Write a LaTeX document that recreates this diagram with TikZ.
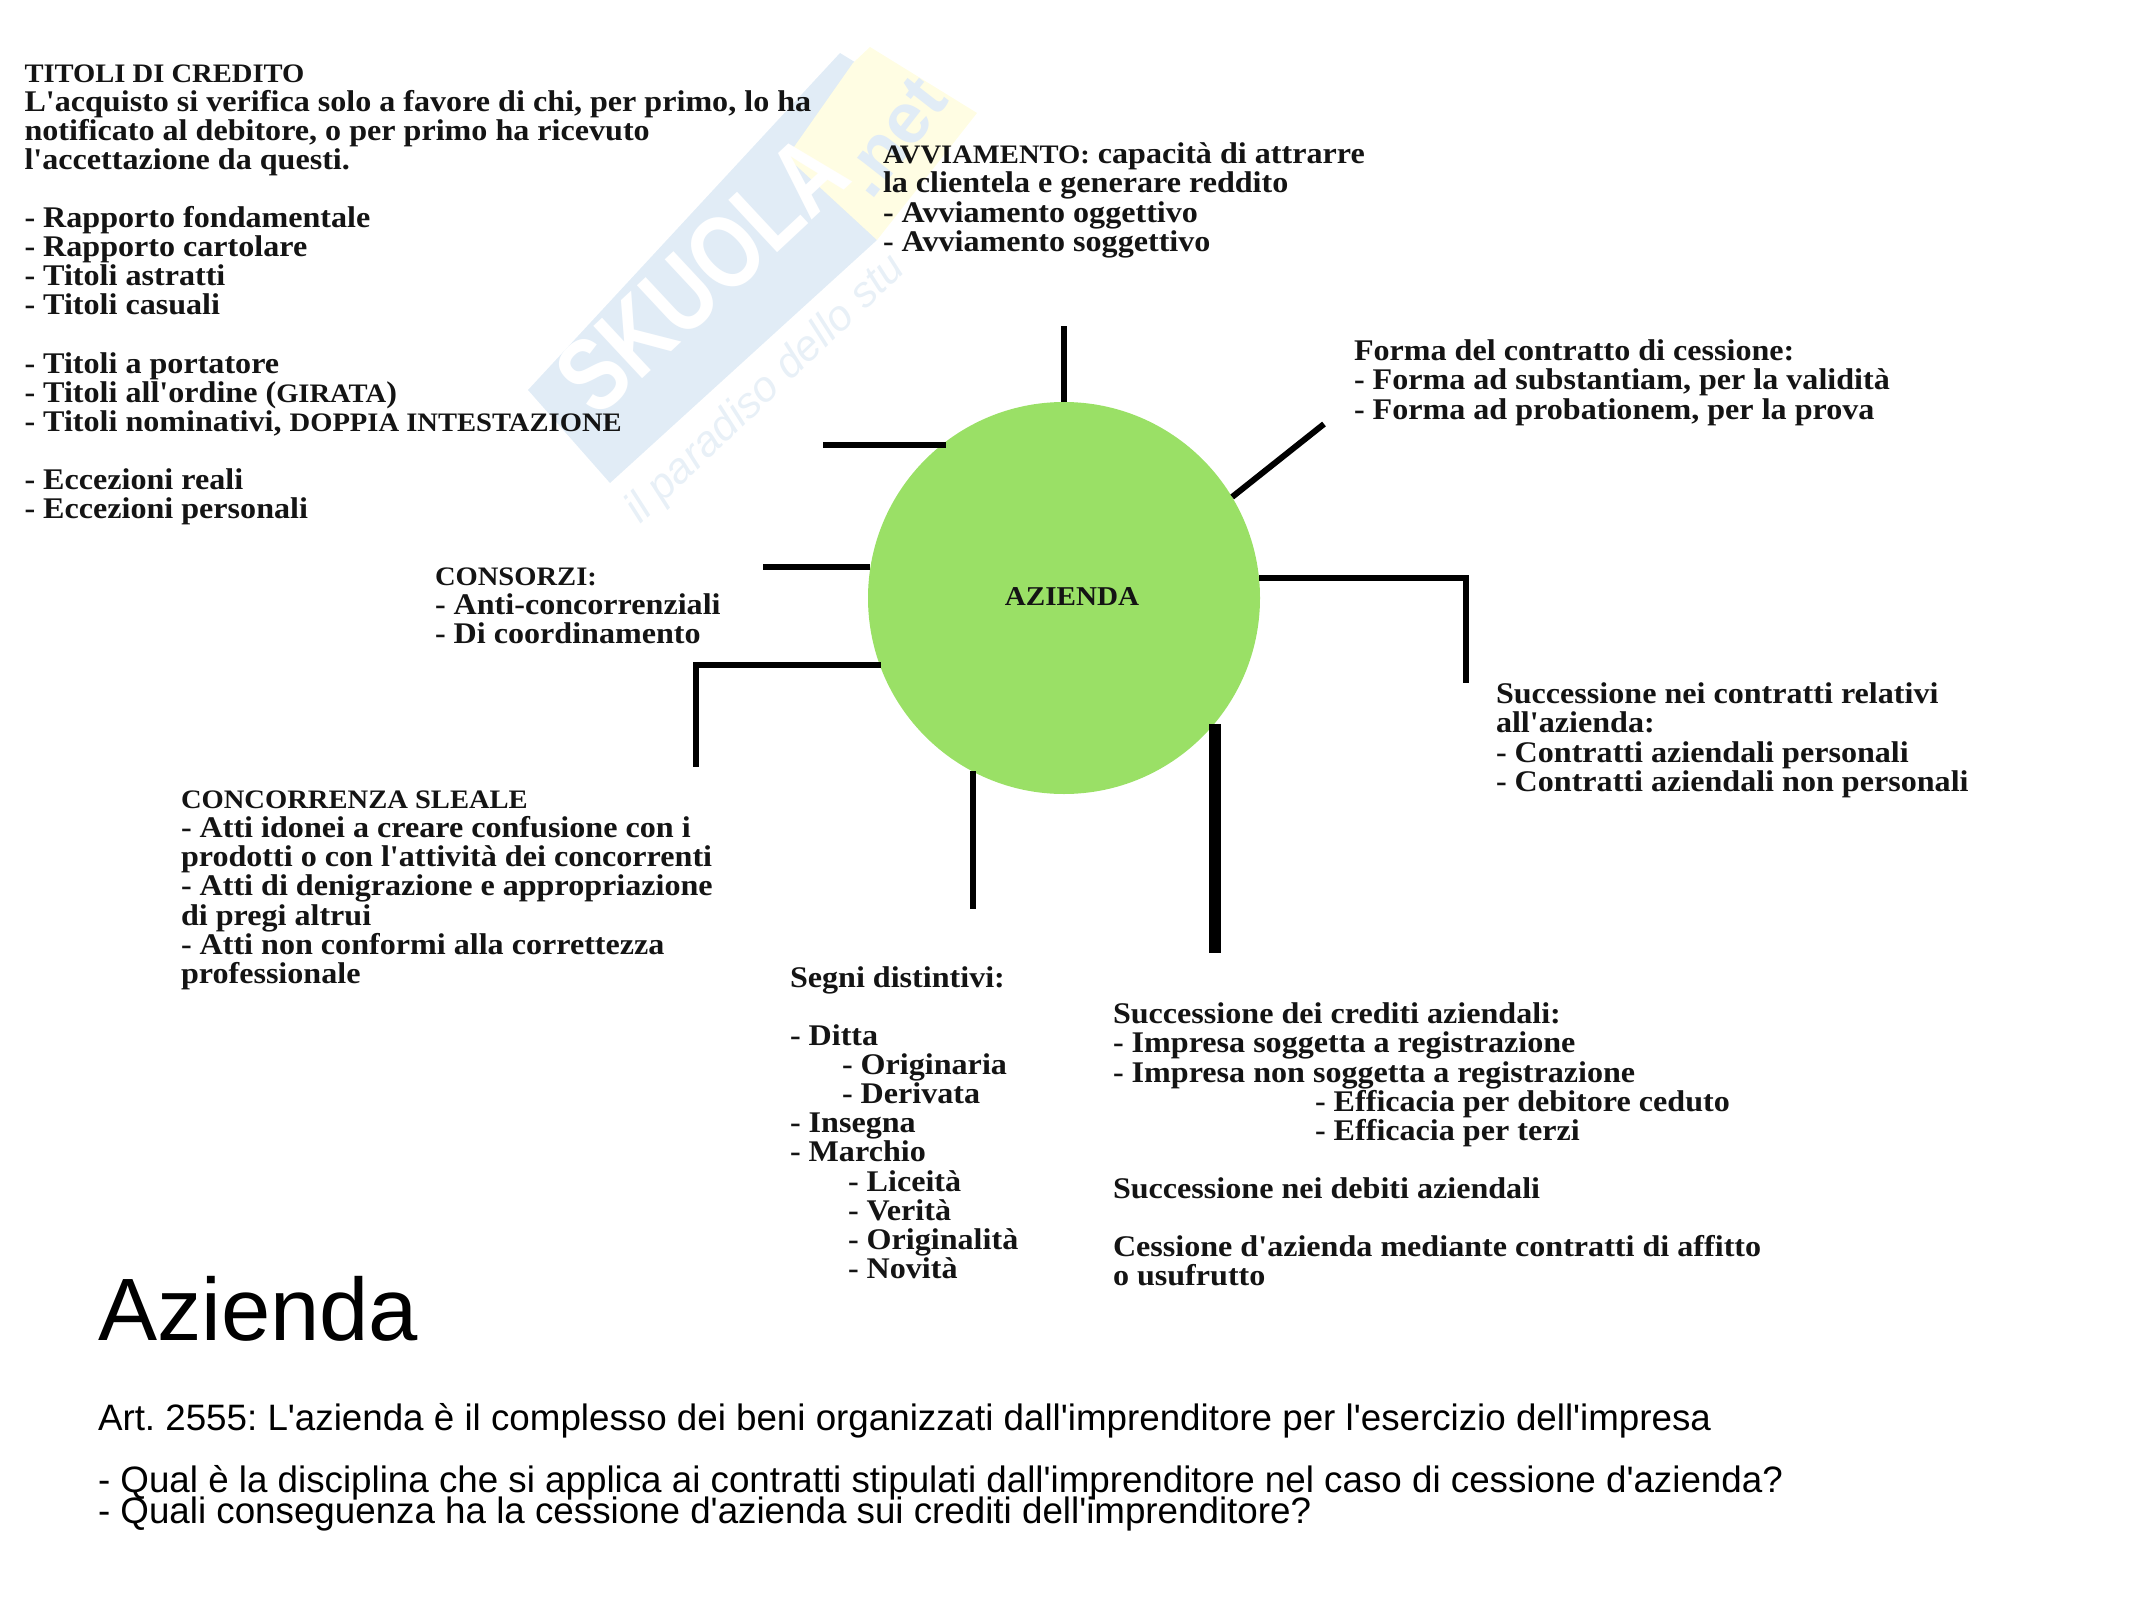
\documentclass[tikz,border=0pt]{standalone}
\usepackage{fontspec}
\newfontfamily\bodyserif[FakeStretch=1.07]{Liberation Serif}
\newfontfamily\bodysans{Liberation Sans}
\newfontfamily\logosans[FakeStretch=0.8]{Liberation Sans}
\definecolor{hubgreen}{HTML}{9AE066}
\definecolor{wmblue}{HTML}{E1ECF6}
\definecolor{wmyellow}{HTML}{FFFDE3}
\definecolor{wmtext}{HTML}{E8F0F7}
\tikzset{
  x=1pt,y=-1pt,
  blocktext/.style={anchor=north west,inner sep=0pt,outer sep=0pt,align=left,
    font=\bodyserif\bfseries\fontsize{30}{29.1}\selectfont,text=black!92,
    execute at begin node=\rule{0pt}{22pt}},
  sanstext/.style={anchor=base west,inner sep=0pt,outer sep=0pt,font=\bodysans\frenchspacing\fontsize{36.75}{36.75}\selectfont},
  spoke/.style={draw=black,line width=6pt},
  thickspoke/.style={draw=black,line width=12pt},
}
\newcommand{\tabone}{\hspace*{52pt}}
\newcommand{\tabtwo}{\hspace*{58pt}}
\newcommand{\tabthree}{\hspace*{202pt}}
\newcommand{\capz}[1]{{\fontsize{26.7}{29.1}\selectfont #1}}
\begin{document}
\begin{tikzpicture}
\useasboundingbox (0,0) rectangle (2133,1600);
% watermark
\fill[wmblue] (528,390) -- (840,53) -- (884,80) -- (877,240) -- (610,483) -- cycle;
\fill[wmyellow] (787,157) -- (853,63) -- (870,47) -- (977,113) -- (877,240) -- cycle;
\node[rotate=43,text=white,font=\logosans\bfseries\fontsize{104}{104}\selectfont,inner sep=0pt] (wmlogo) at (702,274) {SKUOLA};
\node[rotate=52,text=wmblue,font=\bodysans\bfseries\fontsize{72}{72}\selectfont,inner sep=0pt] (wmnet) at (893,137) {.net};
\node[rotate=43.6,text=wmtext,font=\bodysans\itshape\fontsize{43}{43}\selectfont,inner sep=0pt,anchor=base west] (wmtag) at (640,525) {il paradiso dello stu};
% hub
\node[circle,fill=hubgreen,minimum size=392pt,inner sep=0pt] (hub) at (1064,598) {};
\node[inner sep=0pt,font=\bodyserif\bfseries\fontsize{27.2}{27.2}\selectfont,text=black!92] (hublabel) at (1072,597) {AZIENDA};
% free ends
\coordinate (up) at (1064,326);
\coordinate (tl) at (823,445);
\coordinate (diag) at (1324,424);
\coordinate (lf) at (763,567);
\coordinate (lfc) at (696,665);
\coordinate (lfe) at (696,767);
\coordinate (rtc) at (1466,578);
\coordinate (rte) at (1466,683);
\coordinate (bt) at (973,909);
\coordinate (th) at (1215,953);
% connectors
\draw[spoke] (hub.north) -- (up);
\draw[spoke] (tl -| hub.127.4) -- (tl);
\draw[spoke] (hub.31) -- (diag);
\draw[spoke] (lf -| hub.171) -- (lf);
\draw[spoke,line join=miter] (lfc -| hub.201) -- (lfc) -- (lfe);
\draw[spoke,line join=miter] (rtc -| hub.5.9) -- (rtc) -- (rte);
\draw[spoke] (bt |- hub.242.2) -- (bt);
\draw[thickspoke] (th |- hub.320.4) -- (th);
% text blocks
\node[blocktext] (titoli) at (24.5,64.5) {\capz{TITOLI DI CREDITO}\\
L'acquisto si verifica solo a favore di chi, per primo, lo ha\\
notificato al debitore, o per primo ha ricevuto\\
l'accettazione da questi.\\
\\
- Rapporto fondamentale\\
- Rapporto cartolare\\
- Titoli astratti\\
- Titoli casuali\\
\\
- Titoli a portatore\\
- Titoli all'ordine (\capz{GIRATA})\\
- Titoli nominativi, \capz{DOPPIA INTESTAZIONE}\\
\\
- Eccezioni reali\\
- Eccezioni personali};
\node[blocktext] (avviamento) at (883,143) {\capz{AVVIAMENTO:} capacità di attrarre\\
la clientela e generare reddito\\
- Avviamento oggettivo\\
- Avviamento soggettivo};
\node[blocktext] (forma) at (1354,340) {Forma del contratto di cessione:\\
- Forma ad substantiam, per la validità\\
- Forma ad probationem, per la prova};
\node[blocktext] (contratti) at (1496,683) {Successione nei contratti relativi\\
all'azienda:\\
- Contratti aziendali personali\\
- Contratti aziendali non personali};
\node[blocktext] (consorzi) at (435,568) {\capz{CONSORZI:}\\
- Anti-concorrenziali\\
- Di coordinamento};
\node[blocktext] (concorrenza) at (181,791) {\capz{CONCORRENZA SLEALE}\\
- Atti idonei a creare confusione con i\\
prodotti o con l'attività dei concorrenti\\
- Atti di denigrazione e appropriazione\\
di pregi altrui\\
- Atti non conformi alla correttezza\\
professionale};
\node[blocktext] (segni) at (790,966.5) {Segni distintivi:\\
\\
- Ditta\\
\tabone- Originaria\\
\tabone- Derivata\\
- Insegna\\
- Marchio\\
\tabtwo- Liceità\\
\tabtwo- Verità\\
\tabtwo- Originalità\\
\tabtwo- Novità};
\node[blocktext] (crediti) at (1113,1003) {Successione dei crediti aziendali:\\
- Impresa soggetta a registrazione\\
- Impresa non soggetta a registrazione\\
\tabthree- Efficacia per debitore ceduto\\
\tabthree- Efficacia per terzi\\
\\
Successione nei debiti aziendali\\
\\
Cessione d'azienda mediante contratti di affitto\\
o usufrutto};
% title and intro
\node[sanstext,font=\bodysans\fontsize{88.6}{88.6}\selectfont] (title) at (98,1340) {Azienda};
\node[sanstext] (art) at (98,1430) {Art. 2555: L'azienda è il complesso dei beni organizzati dall'imprenditore per l'esercizio dell'impresa};
\node[sanstext] (q1) at (98,1492) {- Qual è la disciplina che si applica ai contratti stipulati dall'imprenditore nel caso di cessione d'azienda?};
\node[sanstext] (q2) at (98,1523) {- Quali conseguenza ha la cessione d'azienda sui crediti dell'imprenditore?};
\end{tikzpicture}
\end{document}
